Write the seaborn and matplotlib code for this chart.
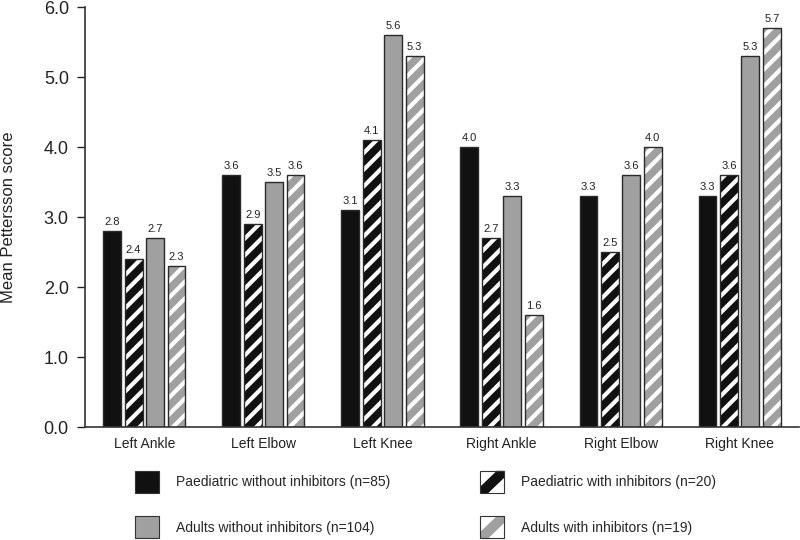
import matplotlib
matplotlib.use("Agg")
import matplotlib.pyplot as plt
import seaborn as sns
import pandas as pd
from matplotlib.patches import Rectangle, Patch, Polygon
from matplotlib.legend_handler import HandlerBase

joints = ["Left Ankle", "Left Elbow", "Left Knee", "Right Ankle", "Right Elbow", "Right Knee"]
series = ["Paediatric without inhibitors (n=85)", "Paediatric with inhibitors (n=20)",
          "Adults without inhibitors (n=104)", "Adults with inhibitors (n=19)"]
paed_without = [2.8, 3.6, 3.1, 4.0, 3.3, 3.3]
paed_with = [2.4, 2.9, 4.1, 2.7, 2.5, 3.6]
adult_without = [2.7, 3.5, 5.6, 3.3, 3.6, 5.3]
adult_with = [2.3, 3.6, 5.3, 1.6, 4.0, 5.7]
yticks = [0, 1, 2, 3, 4, 5, 6]

sns.set_style("ticks")
plt.rcParams["font.family"] = ["Liberation Sans", "DejaVu Sans"]
plt.rcParams["hatch.linewidth"] = 3.0

rows = []
for s, vals in zip(series, [paed_without, paed_with, adult_without, adult_with]):
    for j, v in zip(joints, vals):
        rows.append({"joint": j, "series": s, "value": v})
df = pd.DataFrame(rows)

fills = ["#111111", "#111111", "#a0a0a0", "#a0a0a0"]
hatched = [False, True, False, True]
palette = dict(zip(series, fills))
EDGE = "#2a2a2a"

fig = plt.figure(figsize=(8, 5.4), dpi=100)
ax = fig.add_axes([0.106, 0.209, 0.893, 0.778])
sns.barplot(data=df, x="joint", y="value", hue="series", order=joints, hue_order=series,
            palette=palette, width=0.72, gap=0.17, edgecolor=EDGE, linewidth=1.0,
            saturation=1, ax=ax, legend=False)

for ci, cont in enumerate(ax.containers):
    for p in cont.patches:
        if hatched[ci]:
            p.set_edgecolor("white")
            p.set_hatch("//")
            p.set_linewidth(0)
            ax.add_patch(Rectangle(p.get_xy(), p.get_width(), p.get_height(), fill=False,
                                   edgecolor=EDGE, linewidth=1.0, zorder=p.get_zorder() + 0.1))
    ax.bar_label(cont, fmt="%.1f", padding=3, fontsize=8, color="#222222")

ax.set_ylim(0, 6)
ax.set_yticks(yticks)
ax.set_yticklabels([f"{t:.1f}" for t in yticks], fontsize=13, color="#222222")
ax.set_xlim(-0.5, 5.5)
ax.tick_params(axis="x", length=0, labelsize=10, colors="#222222", pad=7)
ax.tick_params(axis="y", length=6, width=1, colors="#222222", pad=5.5)
ax.set_xlabel("")
ax.set_ylabel("Mean Pettersson score", fontsize=12, color="#222222")
ax.yaxis.set_label_coords(-0.097, 0.5)
sns.despine(ax=ax)
for sp in ["left", "bottom"]:
    ax.spines[sp].set_color("#333333")
    ax.spines[sp].set_linewidth(1.2)


class StripeHandler(HandlerBase):
    def create_artists(self, legend, orig_handle, xdescent, ydescent, width, height, fontsize, trans):
        x0, y0, w, h = -xdescent, -ydescent, width, height
        bg = Rectangle((x0, y0), w, h, facecolor="white", edgecolor="none", transform=trans)
        stripe = Polygon([(x0, y0), (x0 + 0.32 * w, y0), (x0 + w, y0 + 0.7 * h), (x0 + w, y0 + h),
                          (x0 + 0.68 * w, y0 + h), (x0, y0 + 0.3 * h)],
                         closed=True, facecolor=orig_handle.get_facecolor(), edgecolor="none",
                         transform=trans)
        outline = Rectangle((x0, y0), w, h, fill=False, edgecolor="#333333", linewidth=0.8,
                            transform=trans)
        return [bg, stripe, outline]


class StripePatch(Patch):
    pass


handles = []
for s, f, h in zip(series, fills, hatched):
    if h:
        handles.append(StripePatch(facecolor=f))
    else:
        handles.append(Patch(facecolor=f, edgecolor="#333333", linewidth=0.8))
order = [0, 2, 1, 3]
fig.legend([handles[i] for i in order], [series[i] for i in order],
           handler_map={StripePatch: StripeHandler()},
           loc="upper left", bbox_to_anchor=(0.16, 0.141), ncol=2, borderpad=0,
           frameon=False, fontsize=10, handlelength=1.73, handleheight=2.1,
           columnspacing=6.5, handletextpad=1.22, labelspacing=1.65)

fig.savefig("out.png", dpi=100)
